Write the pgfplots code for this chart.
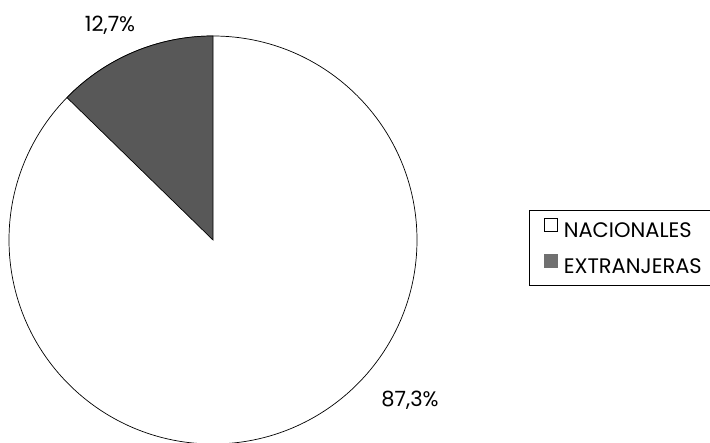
\documentclass[border=0pt]{standalone}
\usepackage{pgfplots}
\pgfplotsset{compat=1.18}
\usepackage{pgfplotstable}
\usepackage{fontspec}
\setmainfont{Poppins}
\definecolor{slicegray}{RGB}{88,88,88}
\definecolor{leggray}{RGB}{112,112,112}
\newcommand\legfont{\fontsize{21}{24}\selectfont}
\pgfplotstableread{
label value
NACIONALES 87.3
EXTRANJERAS 12.7
}\piedata
\begin{document}
\begin{tikzpicture}
\pgfplotstablegetelem{1}{value}\of\piedata
\pgfmathsetmacro{\angext}{90+3.6*\pgfplotsretval}
\begin{axis}[
  width=710pt,height=443pt,scale only axis,
  xmin=0,xmax=710,ymin=0,ymax=443,
  hide axis, clip=false,
  legend cell align=left,
  legend style={at={(axis cs:529,233)},anchor=north west,draw=black,line width=1.2pt,
    inner xsep=14pt, inner ysep=7pt,
    nodes={font=\legfont, inner sep=3pt},
    row sep=11.5pt,
    /tikz/every odd column/.append style={column sep=3pt}},
]
\path (axis cs:0,0) rectangle (axis cs:710,443);
\filldraw[fill=white,draw=black,line width=0.7pt] (axis cs:213,203) circle[radius=204pt];
\filldraw[fill=slicegray,draw=black,line width=0.7pt] (axis cs:213,203) -- (axis cs:213,407)
  arc[start angle=90,end angle=\angext,radius=204pt] -- cycle;
\node[font=\fontsize{21}{24}\selectfont] at (axis cs:110,418) {12,7\%};
\node[font=\fontsize{21}{24}\selectfont] at (axis cs:410,43) {87,3\%};
\addlegendimage{legend image code/.code={\draw[fill=white,draw=black,line width=0.6pt] (0pt,0pt) rectangle (13pt,13pt);}}
\addlegendentry{\legfont\parbox[b]{160pt}{NACIONALES}}
\addlegendimage{legend image code/.code={\fill[leggray] (0pt,0pt) rectangle (13pt,13pt);}}
\addlegendentry{\legfont\parbox[b]{160pt}{EXTRANJERAS}}
\end{axis}
\pgfresetboundingbox
\path[use as bounding box] (current axis.south west) rectangle (current axis.north east);
\end{tikzpicture}
\end{document}
